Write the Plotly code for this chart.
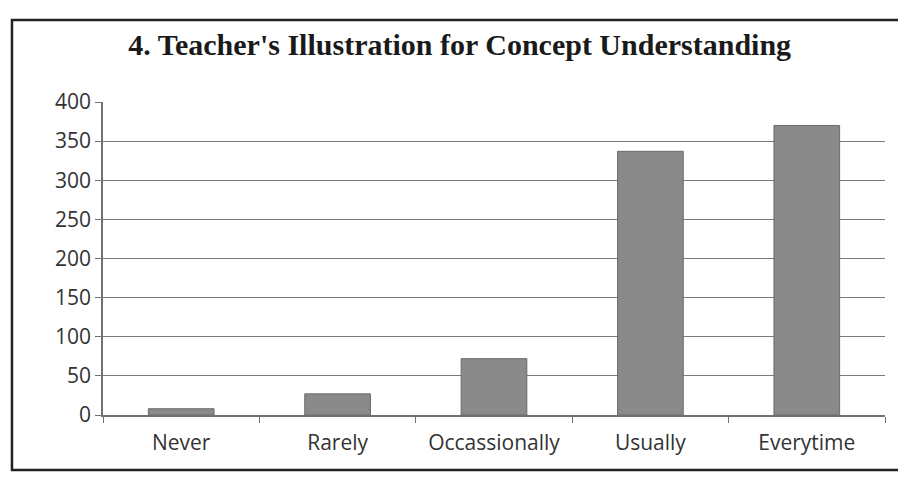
import plotly.graph_objects as go

categories = ["Never", "Rarely", "Occassionally", "Usually", "Everytime"]
values = [8, 27, 72, 337, 370]
y_ticks = [0, 50, 100, 150, 200, 250, 300, 350, 400]
title_text = "4. Teacher's Illustration for Concept Understanding"

fig = go.Figure()
fig.add_trace(go.Bar(
    x=categories, y=values, width=0.42,
    marker=dict(color="#8a8a8a", line=dict(color="#6a6a6a", width=1)),
))

fig.update_layout(
    width=898, height=473,
    margin=dict(l=95, r=21, t=94, b=66),
    paper_bgcolor="white", plot_bgcolor="white",
    showlegend=False,
    title=dict(text="<b>" + title_text + "</b>", x=0.503, xanchor="center",
               y=0.922, yanchor="middle",
               font=dict(family="Liberation Serif, Times New Roman, serif", size=30, color="#1a1a1a")),
    font=dict(family="Open Sans, Liberation Sans, Arial, sans-serif", color="#333333"),
)
fig.update_xaxes(
    type="category", showline=True, linecolor="#707070", linewidth=1.5,
    ticks="outside", ticklen=6, tickcolor="#707070", tickson="boundaries",
    tickfont=dict(size=21, color="#333333"), showgrid=False, ticklabelstandoff=8,
)
fig.update_yaxes(
    range=[0, 400], tickvals=y_ticks, showline=True, linecolor="#707070", linewidth=1.5,
    ticks="outside", ticklen=6, tickcolor="#707070",
    tickfont=dict(size=21, color="#333333"),
    showgrid=True, gridcolor="#7a7a7a", gridwidth=1.2, zeroline=False,
)
fig.add_shape(type="rect", xref="paper", yref="paper",
              x0=-0.1164, x1=1.0217, y0=-0.1757, y1=1.262,
              line=dict(color="#222222", width=2.5), fillcolor="rgba(0,0,0,0)", layer="below")
fig.write_html("out.html")
